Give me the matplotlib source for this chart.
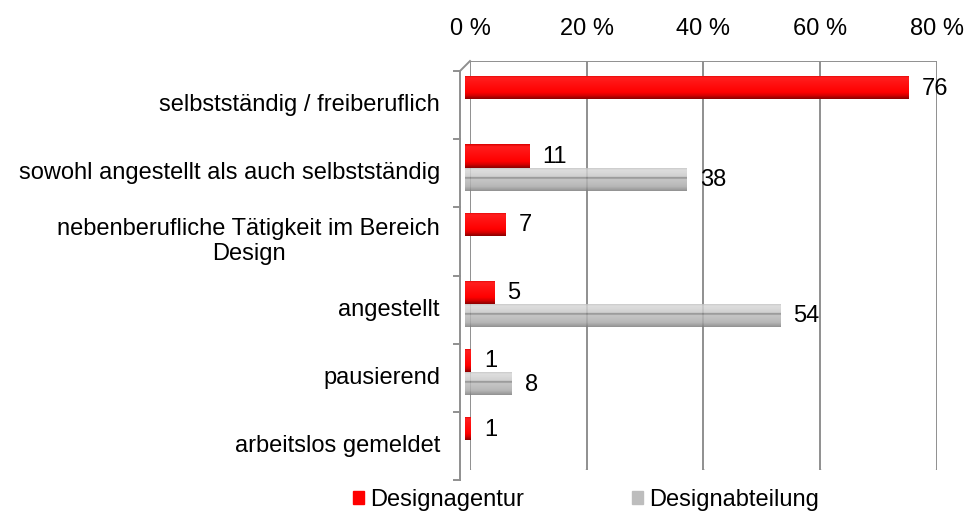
import numpy as np
import matplotlib.pyplot as plt
from matplotlib.colors import LinearSegmentedColormap
from matplotlib.transforms import offset_copy
from matplotlib.patches import Patch

# Data (percent)
categories = ["selbstständig / freiberuflich",
              "sowohl angestellt als auch selbstständig",
              "nebenberufliche Tätigkeit im Bereich\nDesign",
              "angestellt",
              "pausierend",
              "arbeitslos gemeldet"]
agentur = [76, 11, 7, 5, 1, 1]
abteilung = [None, 38, None, 54, 8, None]
series_names = ["Designagentur", "Designabteilung"]
xticks = [0, 20, 40, 60, 80]
xtick_labels = ["0 %", "20 %", "40 %", "60 %", "80 %"]

plt.rcParams['font.family'] = ['Liberation Sans', 'DejaVu Sans']
FS = 17

fig = plt.figure(figsize=(9.7, 5.17), dpi=100)
ax = fig.add_axes([470 / 970, 47 / 517, 467 / 970, 409 / 517])
n = len(categories)
ax.set_xlim(0, 80)
ax.set_ylim(n, 0)

# 3D look: back wall = data coords, bars sit half way, front = full depth
depth = 10
mid = offset_copy(ax.transData, fig=fig, x=-depth / 2, y=-depth / 2, units='dots')
front = offset_copy(ax.transData, fig=fig, x=-depth, y=-depth, units='dots')
dx = depth * 80 / ax.bbox.width
dy = depth * n / ax.bbox.height

grid_col = '#8f8f8f'
lw = 1.4
for x in xticks:
    ax.plot([x, x], [0, n], color=grid_col, lw=lw, zorder=1)
    ax.plot([x, x - dx], [n, n + dy], color=grid_col, lw=lw, zorder=1)
ax.plot([0, 80], [0, 0], color=grid_col, lw=lw, zorder=1)
ax.plot([0, -dx], [0, dy], color=grid_col, lw=lw, zorder=1, clip_on=False)
# front left axis with ticks
ax.plot([0, 0], [0, n], color=grid_col, lw=lw, transform=front, clip_on=False)
for i in range(n + 1):
    ax.plot([-6 * 80 / ax.bbox.width, 0], [i, i], color=grid_col, lw=lw,
            transform=front, clip_on=False)

red_cmap = LinearSegmentedColormap.from_list('red3d', [
    (0, '#d80000'), (0.1, '#ff1e1e'), (0.72, '#ff0000'),
    (0.86, '#d40000'), (1, '#8a0000')])
gray_cmap = LinearSegmentedColormap.from_list('gray3d', [
    (0, '#b8b8b8'), (0.12, '#d8d8d8'), (0.40, '#c8c8c8'), (0.45, '#666666'),
    (0.5, '#bdbdbd'), (0.82, '#aaaaaa'), (1, '#7e7e7e')])

grad = np.linspace(0, 1, 64).reshape(-1, 1)
h = 0.34


def cyl_bar(y, w, cmap, alpha):
    bars = ax.barh(y, w, height=h, left=0, color='none', transform=mid, zorder=2)
    im = ax.imshow(grad, cmap=cmap, extent=(0, w, y + h / 2, y - h / 2),
                   origin='upper', aspect='auto', transform=mid, alpha=alpha,
                   interpolation='bilinear', zorder=2)
    im.set_clip_path(bars.patches[0])


lab_trans = offset_copy(ax.transData, fig=fig, x=-depth / 2 + 13, y=-depth / 2 - 1,
                        units='dots')
for i in range(n):
    yr = i + 0.32
    cyl_bar(yr, agentur[i], red_cmap, 1.0)
    ax.text(agentur[i], yr, str(agentur[i]), transform=lab_trans, fontsize=FS,
            ha='left', va='center')
    if abteilung[i] is not None:
        yg = i + 0.66
        cyl_bar(yg, abteilung[i], gray_cmap, 0.85)
        ax.text(abteilung[i], yg, str(abteilung[i]), transform=lab_trans, fontsize=FS,
                ha='left', va='center')

# category labels
cat_trans = offset_copy(ax.transData, fig=fig, x=-30, y=-depth, units='dots')
for i, c in enumerate(categories):
    ax.text(0, i + 0.5, c, transform=cat_trans, fontsize=FS, ha='right',
            va='center', multialignment='center', linespacing=1.15)

ax.set_xlim(0, 80)
ax.set_ylim(n, 0)
ax.xaxis.tick_top()
ax.set_xticks(xticks)
ax.set_xticklabels(xtick_labels, fontsize=FS)
ax.tick_params(axis='x', length=0, pad=15)
ax.set_yticks([])
for s in ax.spines.values():
    s.set_visible(False)

handles = [Patch(color='#ff0000'), Patch(color='#bdbdbd')]
fig.legend(handles, series_names, loc='center', bbox_to_anchor=(586 / 970, 0.033),
           ncol=2, frameon=False, fontsize=FS, handlelength=0.45, handleheight=0.45,
           handletextpad=0.25, columnspacing=4.6)

fig.savefig('out.png', dpi=100)
